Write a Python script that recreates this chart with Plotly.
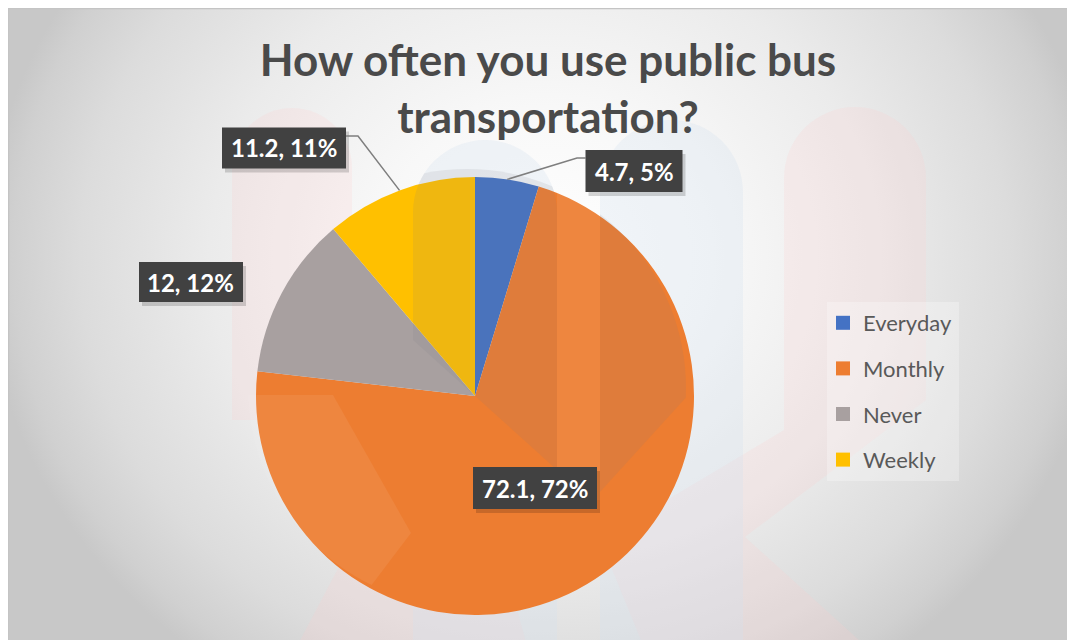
import math
import base64
import plotly.graph_objects as go

# ---------------- data ----------------
categories = ["Everyday", "Monthly", "Never", "Weekly"]
values = [4.7, 72.1, 12, 11.2]
colors = ["#4472C4", "#ED7D31", "#A8A0A0", "#FFC000"]
title_text = "How often you use public bus<br>transportation?"

# figure size (page adds an 8px body margin; coordinates below are page pixels)
W, H = 1067, 632
OX, OY = 8, 8


def px(x):
    return (x - OX) / W


def py(y):
    return 1 - (y - OY) / H


# pie geometry (page pixels)
CX, CY, R = 475, 396, 219

# watermark pillar outlines (page pixels)
LEFT_PILLAR = "M 413,212 A 72,72 0 0 1 557,212 L 557,470 L 413,340 Z"
RIGHT_PILLAR = "M 600,192 A 71.5,71.5 0 0 1 743,192 L 743,335 L 600,492 Z"

# ---------------- background (gradient + faint watermark) ----------------
svg_bg = f'''<svg xmlns="http://www.w3.org/2000/svg" width="{W}" height="{H}" viewBox="0 0 {W} {H}">
<defs>
<radialGradient id="g" cx="537" cy="250" r="560" gradientUnits="userSpaceOnUse"
 gradientTransform="translate(537 250) scale(1 0.9) translate(-537 -250)">
<stop offset="0" stop-color="#ffffff"/>
<stop offset="0.3" stop-color="#f8f8f8"/>
<stop offset="0.6" stop-color="#ebebeb"/>
<stop offset="0.83" stop-color="#dcdcdc"/>
<stop offset="0.95" stop-color="#d0d0d0"/>
<stop offset="1" stop-color="#c8c8c8"/>
</radialGradient>
</defs>
<rect x="0" y="0" width="{W}" height="{H}" fill="url(#g)"/>
<g transform="translate({-OX} {-OY})">
<path d="M 232,168 A 60,60 0 0 1 352,168 L 352,420 L 232,420 Z" fill="#ffcfcf" fill-opacity="0.2"/>
<path d="M 295,650 L 528,650 L 480,470 L 390,470 Z" fill="#ffcfcf" fill-opacity="0.2"/>
<path d="M 784,178 A 71,71 0 0 1 926,178 L 926,400 L 745,537 L 870,650 L 645,650 L 600,540 L 784,430 Z" fill="#ffcfcf" fill-opacity="0.2"/>
<rect x="413" y="140" width="144" height="700" rx="72" fill="#d3e2f0" fill-opacity="0.3"/>
<rect x="600" y="120" width="143" height="700" rx="72" fill="#d3e2f0" fill-opacity="0.3"/>
<rect x="827" y="302" width="132" height="179" fill="#ffffff" fill-opacity="0.28"/>
</g>
<line x1="0.5" y1="0" x2="0.5" y2="{H}" stroke="#c4c4c4" stroke-width="1.5"/>
<line x1="0" y1="0.5" x2="{W}" y2="0.5" stroke="#c4c4c4" stroke-width="1.5"/>
</svg>'''

# watermark tint lying over the pie (clipped to the pie disc)
svg_ov = f'''<svg xmlns="http://www.w3.org/2000/svg" width="{W}" height="{H}" viewBox="0 0 {W} {H}">
<defs><clipPath id="c"><circle cx="{CX - OX}" cy="{CY - OY}" r="{R}"/></clipPath></defs>
<g transform="translate({-OX} {-OY})" clip-path="url(#c)">
<path d="{LEFT_PILLAR}" fill="rgb(120,125,130)" fill-opacity="0.12"/>
<path d="{RIGHT_PILLAR}" fill="rgb(120,125,130)" fill-opacity="0.12"/>
<rect x="557" y="170" width="43" height="330" fill="#ffffff" fill-opacity="0.07"/>
<path d="M 200,395 L 333,395 L 411,533 L 330,640 L 200,640 Z" fill="#ffffff" fill-opacity="0.07"/>
</g>
</svg>'''


def uri(s):
    return "data:image/svg+xml;base64," + base64.b64encode(s.encode()).decode()


fig = go.Figure()
fig.add_trace(go.Pie(
    labels=categories,
    values=values,
    marker=dict(colors=colors, line=dict(width=0)),
    sort=False,
    direction="clockwise",
    rotation=0,
    textinfo="none",
    hoverinfo="label+value+percent",
    showlegend=False,
    domain=dict(x=[px(CX - R), px(CX + R)], y=[py(CY + R), py(CY - R)]),
))

# legend entries (one per category, spaced like the reference)
for cat, col in zip(categories, colors):
    fig.add_trace(go.Scatter(
        x=[None], y=[None], mode="markers", name=cat,
        marker=dict(symbol="square", size=14, color=col),
        legendgroup=cat, showlegend=True, hoverinfo="skip",
    ))

# ---------------- data labels ----------------
total = sum(values)
label_pos = {  # pixel centre of each label box, and box size
    "Everyday": (634, 171, 97, 42),
    "Monthly": (535, 488, 124, 42),
    "Never": (191, 282, 104, 40),
    "Weekly": (284, 148, 124, 41),
}
shapes = []
annotations = []
cum = 0.0
mid_angles = {}
for cat, v in zip(categories, values):
    mid_angles[cat] = (cum + v / 2) / total * 360.0
    cum += v
    cx, cy, bw, bh = label_pos[cat]
    shapes.append(dict(type="rect", xref="paper", yref="paper",
                       x0=px(cx - bw / 2 + 3), x1=px(cx + bw / 2 + 3),
                       y0=py(cy + bh / 2 + 4), y1=py(cy - bh / 2 + 4),
                       fillcolor="rgba(0,0,0,0.16)", line=dict(width=0), layer="above"))
    shapes.append(dict(type="rect", xref="paper", yref="paper",
                       x0=px(cx - bw / 2), x1=px(cx + bw / 2),
                       y0=py(cy + bh / 2), y1=py(cy - bh / 2),
                       fillcolor="#414141", line=dict(width=0), layer="above"))
    pct = round(v / total * 100)
    annotations.append(dict(
        x=px(cx), y=py(cy), xref="paper", yref="paper", showarrow=False,
        text=f"<b>{v:g}, {pct}%</b>",
        font=dict(family="Lato", size=24, color="#ffffff"),
        xanchor="center", yanchor="middle",
    ))


def edge(cat):
    a = math.radians(mid_angles[cat])
    return CX + R * math.sin(a), CY - R * math.cos(a)


# leader lines
leaders = {
    "Everyday": [(586, 158), (577, 158)],
    "Weekly": [(346, 136), (358, 136)],
}
for cat, pts in leaders.items():
    ex, ey = edge(cat)
    allpts = pts + [(ex, ey)]
    path = "M " + " L ".join(f"{px(x)},{py(y)}" for x, y in allpts)
    shapes.append(dict(type="path", xref="paper", yref="paper", path=path,
                       line=dict(color="#7f7f7f", width=1.5), layer="above"))

fig.update_layout(
    width=W, height=H,
    margin=dict(l=0, r=0, t=0, b=0),
    paper_bgcolor="#ffffff",
    plot_bgcolor="rgba(0,0,0,0)",
    xaxis=dict(visible=False),
    yaxis=dict(visible=False),
    title=dict(
        text=f"<b>{title_text}</b>",
        x=px(548), xanchor="center",
        y=py(76), yanchor="middle", yref="paper",
        font=dict(family="Lato", size=44, color="#4a4a4a"),
    ),
    images=[
        dict(source=uri(svg_bg), xref="paper", yref="paper",
             x=0, y=1, sizex=1, sizey=1,
             xanchor="left", yanchor="top", sizing="stretch", layer="below"),
        dict(source=uri(svg_ov), xref="paper", yref="paper",
             x=0, y=1, sizex=1, sizey=1,
             xanchor="left", yanchor="top", sizing="stretch", layer="above"),
    ],
    legend=dict(
        x=px(823), y=py(302), xanchor="left", yanchor="top",
        bgcolor="rgba(0,0,0,0)",
        font=dict(family="Lato", size=22, color="#595959"),
        tracegroupgap=14,
        itemclick=False, itemdoubleclick=False,
    ),
    shapes=shapes,
    annotations=annotations,
)

fig.write_html("out.html")
